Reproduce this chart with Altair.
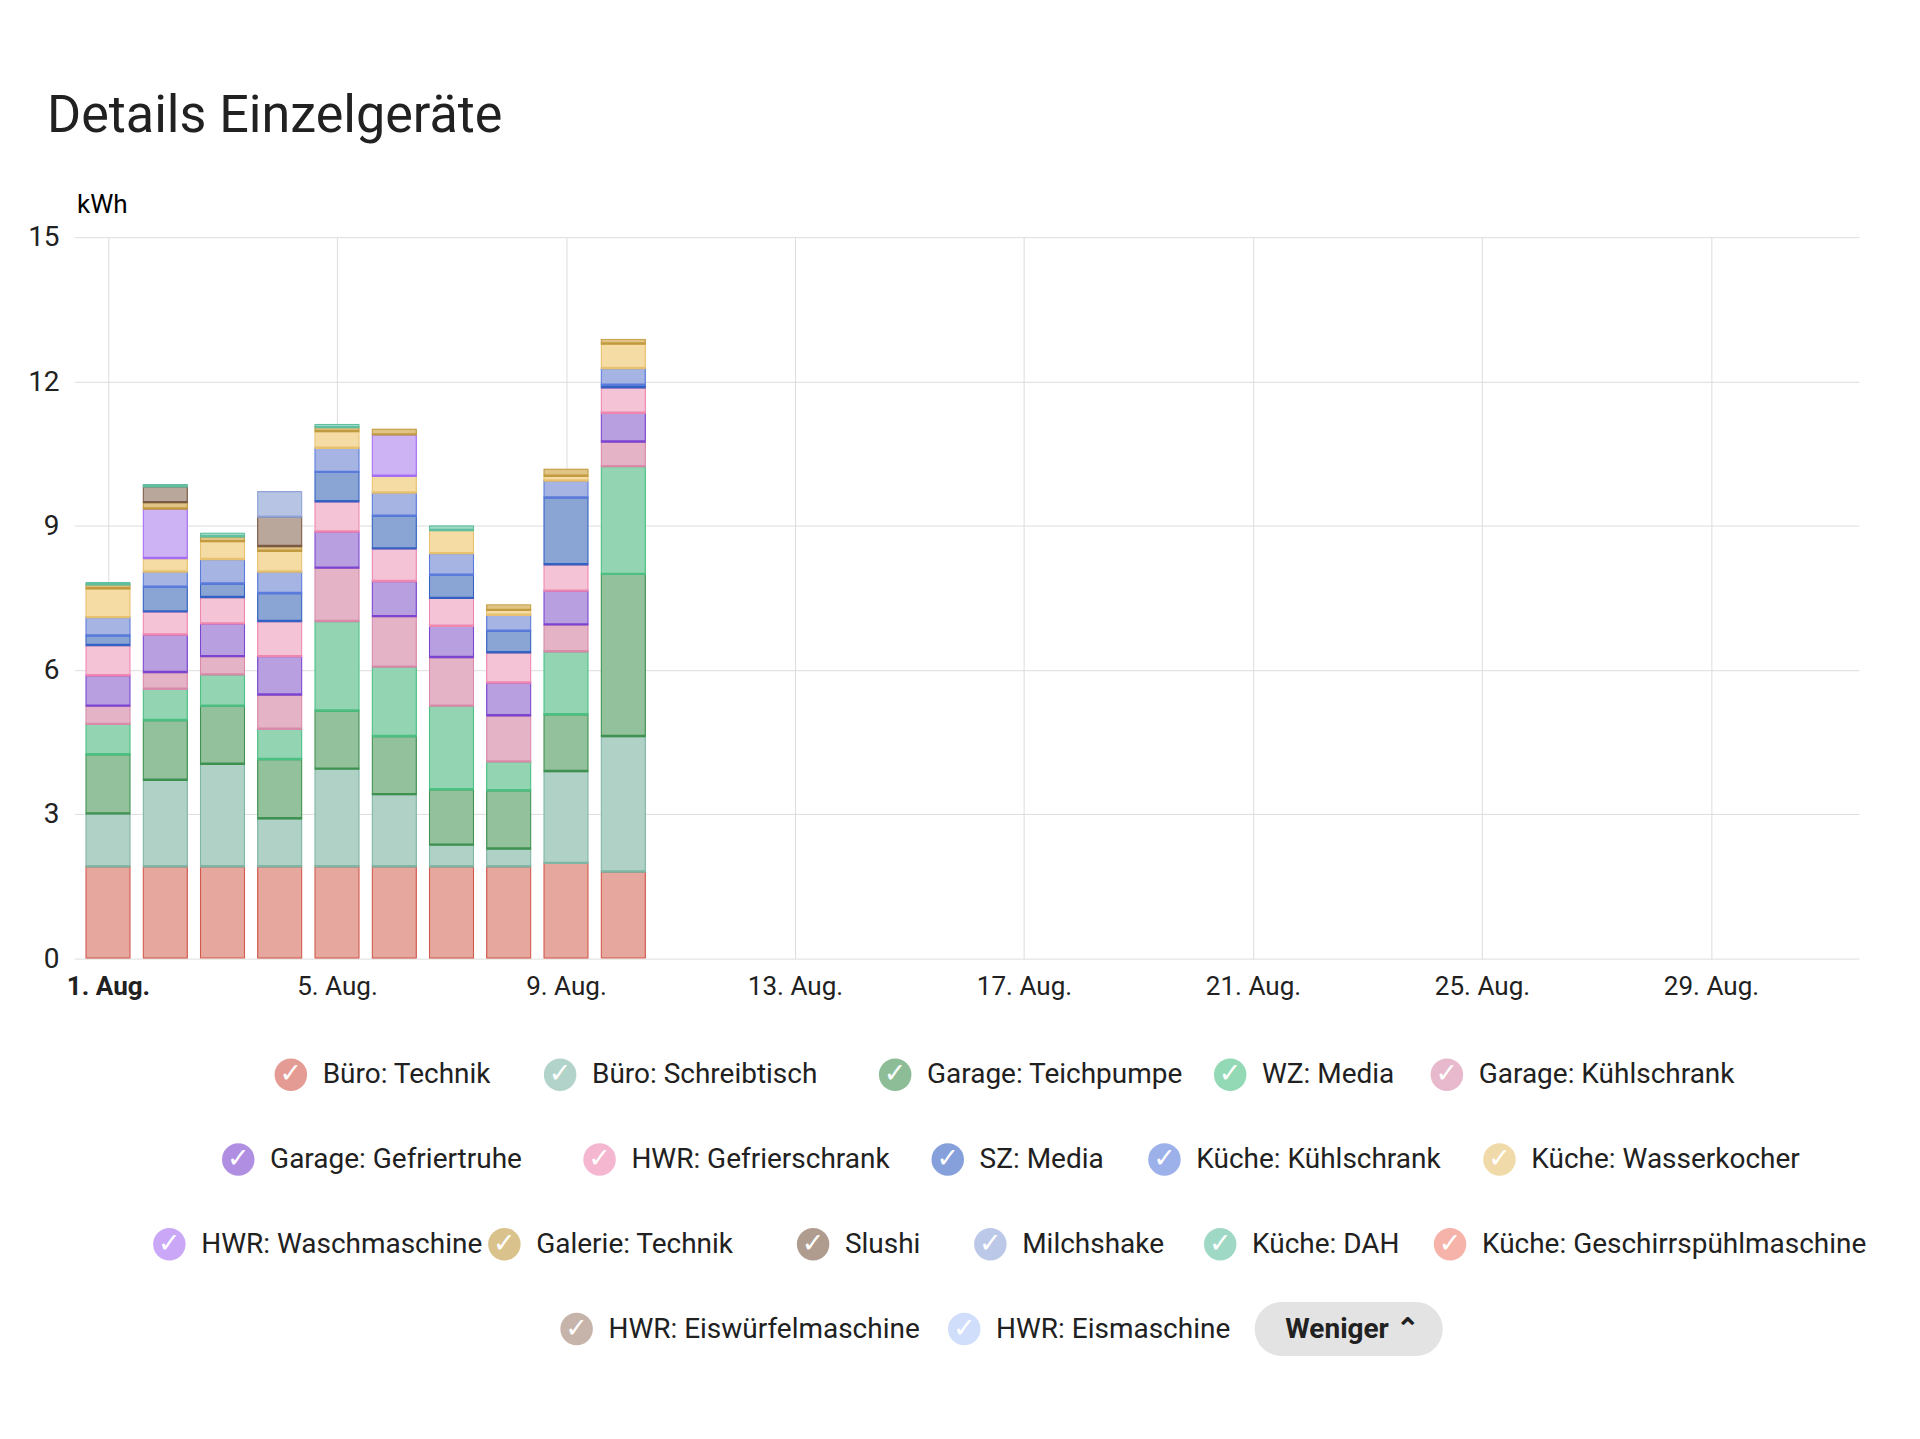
import altair as alt
import pandas as pd

days = [f"2024-08-{d:02d}" for d in range(1, 11)]

series = [
    "Büro: Technik", "Büro: Schreibtisch", "Garage: Teichpumpe", "WZ: Media",
    "Garage: Kühlschrank", "Garage: Gefriertruhe", "HWR: Gefrierschrank", "SZ: Media",
    "Küche: Kühlschrank", "Küche: Wasserkocher", "HWR: Waschmaschine", "Galerie: Technik",
    "Slushi", "Milchshake", "Küche: DAH", "Küche: Geschirrspühlmaschine",
    "HWR: Eiswürfelmaschine", "HWR: Eismaschine",
]
fills = ["#e5a79e", "#afd1c6", "#93c19b", "#93d5b3", "#e5b3c6", "#b89fe0", "#f4c3d6",
         "#8aa4d4", "#a6b4e3", "#f4dca4", "#cdb2f4", "#e0c485", "#b9a79b", "#b8c4e4",
         "#9fd9c8", "#f5b3ab", "#c8b3a8", "#d3e0fb"]
strokes = ["#d2584c", "#7fb5a5", "#3f9150", "#4cbf83", "#d98aaa", "#7b45d0", "#ef86b0",
           "#3461c2", "#5a7bdc", "#e8c170", "#a66ef2", "#c29a40", "#7a5a45", "#8fa3d8",
           "#5fbfa0", "#f08070", "#a08070", "#b0c8f8"]

# kWh per day, one list per series (10 days)
values = {
    "Büro: Technik":        [1.92, 1.92, 1.92, 1.92, 1.92, 1.92, 1.92, 1.92, 1.99, 1.81],
    "Büro: Schreibtisch":   [1.10, 1.80, 2.13, 1.00, 2.03, 1.50, 0.45, 0.37, 1.91, 2.82],
    "Garage: Teichpumpe":   [1.23, 1.24, 1.21, 1.23, 1.21, 1.21, 1.15, 1.21, 1.18, 3.37],
    "WZ: Media":            [0.63, 0.65, 0.65, 0.63, 1.86, 1.44, 1.74, 0.60, 1.31, 2.24],
    "Garage: Kühlschrank":  [0.38, 0.35, 0.38, 0.71, 1.11, 1.05, 1.01, 0.96, 0.56, 0.51],
    "Garage: Gefriertruhe": [0.63, 0.78, 0.68, 0.80, 0.75, 0.73, 0.65, 0.68, 0.70, 0.60],
    "HWR: Gefrierschrank":  [0.63, 0.48, 0.55, 0.73, 0.63, 0.68, 0.58, 0.63, 0.55, 0.53],
    "SZ: Media":            [0.20, 0.51, 0.28, 0.58, 0.61, 0.68, 0.48, 0.45, 1.39, 0.05],
    "Küche: Kühlschrank":   [0.38, 0.32, 0.51, 0.45, 0.50, 0.48, 0.45, 0.33, 0.35, 0.35],
    "Küche: Wasserkocher":  [0.60, 0.28, 0.37, 0.43, 0.35, 0.35, 0.48, 0.10, 0.10, 0.51],
    "HWR: Waschmaschine":   [0, 1.03, 0, 0, 0, 0.86, 0, 0, 0, 0],
    "Galerie: Technik":     [0.08, 0.13, 0.10, 0.10, 0.08, 0.12, 0, 0.12, 0.15, 0.10],
    "Slushi":               [0, 0.33, 0, 0.61, 0, 0, 0, 0, 0, 0],
    "Milchshake":           [0, 0, 0, 0.53, 0, 0, 0, 0, 0, 0],
    "Küche: DAH":           [0.05, 0.05, 0.08, 0, 0.07, 0, 0.10, 0, 0, 0],
}

rows = []
for i, s in enumerate(series):
    for d, v in zip(days, values.get(s, [0] * 10)):
        if v > 0:
            rows.append({"date": d, "series": s, "kwh": v, "idx": i,
                         "fill": fills[i], "stroke": strokes[i]})
bars_df = pd.DataFrame(rows)

FONT = "Roboto"
tick_days = [f"2024-08-{d:02d}" for d in (1, 5, 9, 13, 17, 21, 25, 29)]

bars = alt.Chart(bars_df).mark_bar(width=47, strokeWidth=2.5, cornerRadius=1).encode(
    x=alt.X("date:T", scale=alt.Scale(type="utc",
                                      domain=["2024-07-31T12:00:00", "2024-08-31T12:00:00"]),
            axis=alt.Axis(values=[{"year": 2024, "month": 8, "date": int(t[-2:]), "utc": True} for t in tick_days],
                          labelExpr="utcdate(datum.value) + '. Aug.'",
                          labelFontWeight={"condition": {"test": "utcdate(datum.value) == 1", "value": "bold"},
                                           "value": "normal"},
                          title=None, domain=False, ticks=False, labelPadding=16,
                          labelFontSize=27, labelColor="#212121", gridColor="#dcdcdc")),
    y=alt.Y("kwh:Q", stack="zero", scale=alt.Scale(domain=[0, 15]),
            axis=alt.Axis(values=[0, 3, 6, 9, 12, 15], title="kWh", titleAngle=0,
                          titleAlign="left", titleX=2, titleY=-20, titleFontWeight="normal",
                          titleFontSize=27, labelFontSize=29, labelColor="#212121",
                          domain=False, ticks=False, labelPadding=16, gridColor="#dcdcdc")),
    color=alt.Color("fill:N", scale=None),
    stroke=alt.Stroke("stroke:N", scale=None),
    order=alt.Order("idx:Q"),
).properties(width=1850, height=748)

# legend rows
legend_rows = [[0, 1, 2, 3, 4], [5, 6, 7, 8, 9], [10, 11, 12, 13, 14, 15], [16, 17]]
FS = 29
CIRC = 38
center = 960
items = []
for r, idxs in enumerate(legend_rows):
    widths = [CIRC + 14 + len(series[i]) * FS * 0.47 for i in idxs]
    if r == 3:
        widths.append(195)
    total = sum(widths) + 50 * (len(widths) - 1)
    x = center - total / 2
    for k, w in enumerate(widths):
        if k < len(idxs):
            i = idxs[k]
            items.append({"name": series[i], "fill": strokes[i], "cx": x + CIRC / 2,
                          "tx": x + CIRC + 14, "y": 75 + r * 95})
        else:
            btn = {"x1": x, "x2": x + w, "y": 75 + r * 95}
        x += w + 50
leg_df = pd.DataFrame(items)

xs = alt.Scale(domain=[0, 1900])
ys = alt.Scale(domain=[0, 400], reverse=True)
base = alt.Chart(leg_df)
circ = base.mark_circle(size=1135, opacity=0.6).encode(
    x=alt.X("cx:Q", scale=xs, axis=None), y=alt.Y("y:Q", scale=ys, axis=None),
    color=alt.Color("fill:N", scale=None))
check = base.mark_text(text="✓", fontSize=28, fontWeight="bold", color="white", font="DejaVu Sans").encode(
    x=alt.X("cx:Q", scale=xs), y=alt.Y("y:Q", scale=ys))
label = base.mark_text(align="left", fontSize=FS, font=FONT, color="#212121").encode(
    x=alt.X("tx:Q", scale=xs), y=alt.Y("y:Q", scale=ys), text="name:N")
btn_df = pd.DataFrame([btn])
button = alt.Chart(btn_df).mark_bar(color="#e3e3e3", cornerRadius=28).encode(
    x=alt.X("x1:Q", scale=xs), x2="x2:Q",
    y=alt.Y("y:Q", scale=ys), size=alt.value(56))
btn_text = alt.Chart(btn_df).mark_text(text="Weniger  ⌃", fontSize=FS, fontWeight="bold",
                                       font=FONT, color="#212121", dx=4).encode(
    x=alt.X("x1:Q", scale=xs), y=alt.Y("y:Q", scale=ys), xOffset=alt.value(97))
legend = alt.layer(circ, check, label, button, btn_text).properties(width=1900, height=380)

chart = alt.vconcat(bars, legend, spacing=4).properties(
    title=alt.TitleParams("Details Einzelgeräte", anchor="start", fontSize=54,
                          fontWeight="normal", font=FONT, color="#212121", offset=50, dx=20),
    padding={"top": 60, "left": 20, "right": 5, "bottom": 5}
).configure(font=FONT).configure_view(stroke=None).configure_concat(spacing=4)

chart.save("out.html", embed_options={"renderer": "svg", "actions": False})
